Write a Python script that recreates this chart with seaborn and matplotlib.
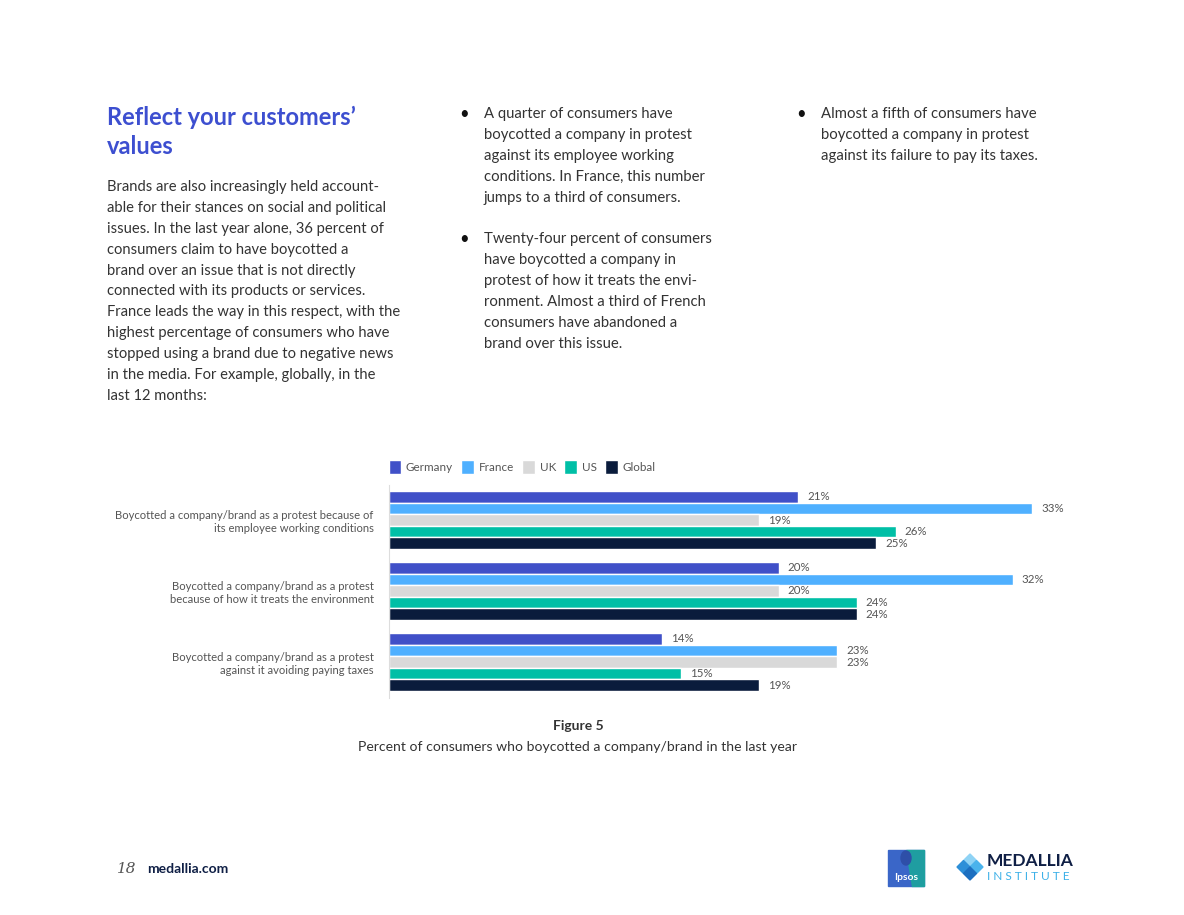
import pandas as pd
import matplotlib.pyplot as plt
import matplotlib.patches as mpatches
import seaborn as sns

# Chart data
categories = [
    'Boycotted a company/brand as a protest because of\nits employee working conditions',
    'Boycotted a company/brand as a protest\nbecause of how it treats the environment',
    'Boycotted a company/brand as a protest\nagainst it avoiding paying taxes',
]
countries = ['Germany', 'France', 'UK', 'US', 'Global']
germany = [21, 20, 14]
france = [33, 32, 23]
uk = [19, 20, 23]
us = [26, 24, 15]
global_ = [25, 24, 19]
colors = ['#4050C8', '#4FB0FF', '#D9D9D9', '#00BFA6', '#0A1C3C']

rows = []
for name, vals in zip(countries, [germany, france, uk, us, global_]):
    for cat, v in zip(categories, vals):
        rows.append({'Category': cat, 'Country': name, 'Value': v})
df = pd.DataFrame(rows)

sns.set_theme(style='white')
plt.rcParams['font.family'] = ['Lato', 'DejaVu Sans']

W, H = 1184, 915
fig = plt.figure(figsize=(W / 100, H / 100), dpi=100)


def px(x, y):
    return x / W, 1 - y / H


# ---- chart ----
ax = fig.add_axes([389 / W, 1 - 697.5 / H, 682 / W, 213 / H])
sns.barplot(data=df, y='Category', x='Value', hue='Country', order=categories,
            hue_order=countries, palette=colors, orient='h', width=0.81,
            saturation=1, ax=ax, legend=True)
for c in ax.containers:
    ax.bar_label(c, fmt='%d%%', padding=6.5, fontsize=8.3, color='#555555')
ax.set_xlim(0, 35)
ax.set_ylim(2.5, -0.5)
ax.set_xlabel('')
ax.set_ylabel('')
ax.set_xticks([])
ax.tick_params(axis='y', length=0, pad=11, labelsize=8.15, labelcolor='#555555')
for lbl in ax.get_yticklabels():
    lbl.set_horizontalalignment('right')
for s in ['top', 'right', 'bottom']:
    ax.spines[s].set_visible(False)
ax.spines['left'].set_color('#DDDDDD')
ax.spines['left'].set_linewidth(0.8)

handles, labels = ax.get_legend_handles_labels()
ax.legend(handles, labels, ncol=5, loc='center left',
          bbox_to_anchor=px(378, 467), bbox_transform=fig.transFigure,
          frameon=False, fontsize=8.4, handlelength=1.1, handleheight=1.45,
          handletextpad=0.4, columnspacing=0.7, labelcolor='#555555')

# ---- page text ----
heading = '#3D4FD0'
body = '#333333'
fig.text(*px(107, 117), 'Reflect your customers\u2019', color=heading, fontsize=17,
         fontweight='bold', va='center')
fig.text(*px(107, 147), 'values', color=heading, fontsize=17, fontweight='bold', va='center')

left_lines = [
    'Brands are also increasingly held account-',
    'able for their stances on social and political',
    'issues. In the last year alone, 36 percent of',
    'consumers claim to have boycotted a',
    'brand over an issue that is not directly',
    'connected with its products or services.',
    'France leads the way in this respect, with the',
    'highest percentage of consumers who have',
    'stopped using a brand due to negative news',
    'in the media. For example, globally, in the',
    'last 12 months:',
]
for i, line in enumerate(left_lines):
    fig.text(*px(107, 187 + 20.9 * i), line, color=body, fontsize=10.6, va='center')

mid_1 = ['A quarter of consumers have', 'boycotted a company in protest',
         'against its employee working', 'conditions. In France, this number',
         'jumps to a third of consumers.']
mid_2 = ['Twenty-four percent of consumers', 'have boycotted a company in',
         'protest of how it treats the envi-', 'ronment. Almost a third of French',
         'consumers have abandoned a', 'brand over this issue.']
right_1 = ['Almost a fifth of consumers have', 'boycotted a company in protest',
           'against its failure to pay its taxes.']


def bullet(x, y, lines):
    fig.text(*px(x - 25, y), '\u2022', color='#111111', fontsize=12, va='center')
    for i, line in enumerate(lines):
        fig.text(*px(x, y + 20.9 * i), line, color=body, fontsize=10.75, va='center')


bullet(484, 114, mid_1)
bullet(484, 239, mid_2)
bullet(821, 114, right_1)

fig.text(*px(578, 726), 'Figure 5', color=body, fontsize=10, fontweight='bold',
         ha='center', va='center')
fig.text(*px(578, 747), 'Percent of consumers who boycotted a company/brand in the last year',
         color=body, fontsize=10.05, ha='center', va='center')

# ---- footer ----
fig.text(*px(117, 869), '18', color='#555555', fontsize=11, style='italic',
         family='DejaVu Serif', va='center')
fig.text(*px(147, 869), 'medallia.com', color='#0F1F45', fontsize=10,
         fontweight='bold', va='center')

# Ipsos logo
lx, ly = px(888, 886)
fig.patches.append(mpatches.Rectangle((lx, ly), 36 / W, 36 / H, transform=fig.transFigure,
                                      color='#3A66C8', zorder=1))
fig.patches.append(mpatches.Polygon([px(906, 850), px(924, 850), px(924, 886), px(912, 886)],
                                    closed=True, transform=fig.transFigure,
                                    color='#1BA79B', alpha=0.85, zorder=2))
fig.patches.append(mpatches.Ellipse(px(906, 858), 10 / W, 14 / H, transform=fig.transFigure,
                                    color='#2E4FA8', zorder=3))
fig.text(*px(906, 877), 'Ipsos', color='white', fontsize=7.5, fontweight='bold',
         ha='center', va='center', zorder=4)

# Medallia Institute logo
cx, cy = 970, 867
s = 6.5
shades = ['#8FD3F5', '#4AB3EC', '#2D8FD8', '#1C6FC0']
offsets = [(0, -s), (s, 0), (-s, 0), (0, s)]
for (dx, dy), col in zip(offsets, shades):
    x0, y0 = cx + dx, cy + dy
    pts = [px(x0, y0 - s), px(x0 + s, y0), px(x0, y0 + s), px(x0 - s, y0)]
    fig.patches.append(mpatches.Polygon(pts, closed=True, transform=fig.transFigure,
                                        color=col, zorder=2))
fig.text(*px(987, 861), 'MEDALLIA', color='#0F1F45', fontsize=12.5, fontweight='bold',
         va='center')
fig.text(*px(987, 876), 'I N S T I T U T E', color='#3BB0E8', fontsize=8.6, va='center')

fig.savefig('out.png', dpi=100)
